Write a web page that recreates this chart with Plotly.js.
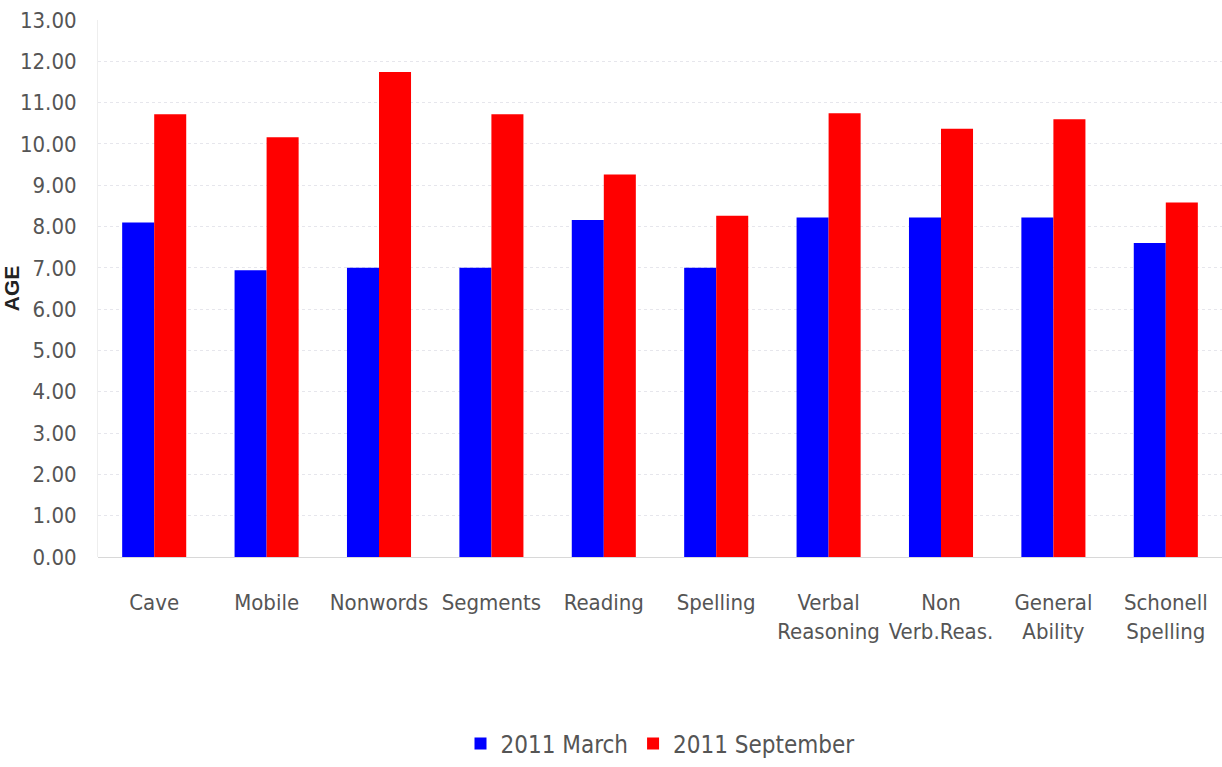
<!DOCTYPE html>
<html>
<head>
<meta charset="utf-8">
<script src="https://cdn.plot.ly/plotly-3.0.1.min.js"></script>
<style>html,body{margin:0;padding:0;background:#fff;}#chart{width:1222px;height:767px;}</style>
</head>
<body>
<div id="chart"></div>
<script>
const categories = ["Cave", "Mobile", "Nonwords", "Segments", "Reading", "Spelling", "Verbal<br>Reasoning", "Non<br>Verb.Reas.", "General<br>Ability", "Schonell<br>Spelling"];
const march2011 = [8.10, 6.94, 7.00, 7.00, 8.16, 7.00, 8.22, 8.22, 8.22, 7.60];
const september2011 = [10.72, 10.16, 11.74, 10.72, 9.26, 8.26, 10.74, 10.37, 10.60, 8.58];
const yTicks = [0,1,2,3,4,5,6,7,8,9,10,11,12,13];

const fontFam = "'Liberation Sans Narrow', 'Arial Narrow', 'DejaVu Sans Condensed', sans-serif";

const traces = [
  {type: 'bar', name: '2011 March', x: categories, y: march2011, marker: {color: '#0000ff'}},
  {type: 'bar', name: '2011 September', x: categories, y: september2011, marker: {color: '#ff0000'}}
];

const layout = {
  width: 1222, height: 767,
  margin: {l: 98, r: 0, t: 20, b: 207},
  paper_bgcolor: '#ffffff', plot_bgcolor: '#ffffff',
  barmode: 'group', bargap: 0.43, bargroupgap: 0,
  font: {family: fontFam, color: '#555555', size: 22},
  xaxis: {
    type: 'category', showgrid: false, zeroline: false, showline: false,
    ticks: '', ticklabelstandoff: 30, tickangle: 0,
    tickfont: {family: fontFam, size: 22, color: '#555555'},
    automargin: false
  },
  yaxis: {
    range: [0, 13], tickvals: yTicks, ticktext: yTicks.map(v => v.toFixed(2)),
    showgrid: true, gridcolor: '#e6e6ec', griddash: 'dot', gridwidth: 1,
    zeroline: true, zerolinecolor: '#d8d8d8', zerolinewidth: 1,
    showline: true, linecolor: '#eeeeee', linewidth: 1,
    ticks: '', ticklabelstandoff: 16,
    tickfont: {family: fontFam, size: 22, color: '#555555'},
    title: {text: '<b>AGE</b>', font: {family: 'Liberation Sans, Arial, sans-serif', size: 21, color: '#222222'}, standoff: 4},
    automargin: false
  },
  legend: {
    orientation: 'h', x: 0.5, xanchor: 'center', y: -0.348, yanchor: 'middle',
    font: {family: fontFam, size: 24, color: '#555555'},
    itemwidth: 30, traceorder: 'normal'
  },
  showlegend: true
};

Plotly.newPlot('chart', traces, layout, {displayModeBar: false, staticPlot: true});
</script>
</body>
</html>
